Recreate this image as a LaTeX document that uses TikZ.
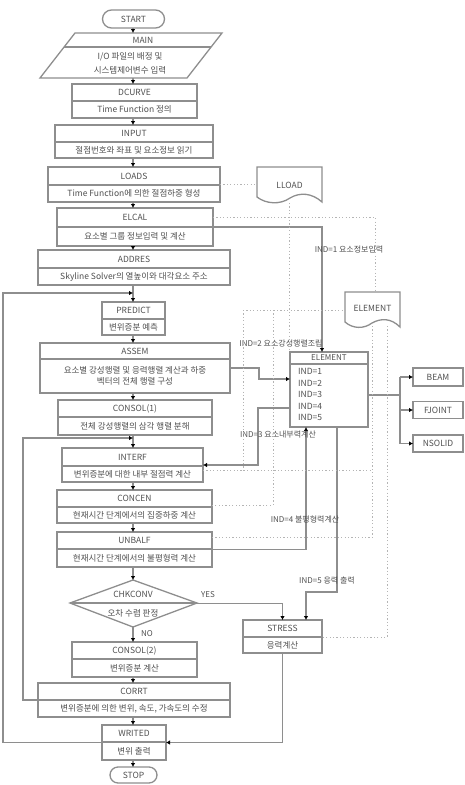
\documentclass[tikz,border=0pt]{standalone}
\usepackage{fontspec}
\newfontfamily\kr{Noto Sans CJK KR}
\usetikzlibrary{arrows.meta,calc}
\definecolor{ln}{HTML}{8E8E8E}
\definecolor{tx}{HTML}{505050}
\definecolor{dl}{HTML}{B4B4B4}
\tikzset{
 boxs/.style={draw=ln, line width=1.3pt, fill=white, inner sep=0pt, outer sep=0pt},
 boxline/.style={draw=ln, line width=1.1pt},
 txt/.style={font=\kr\fontsize{8.5}{10.5}\selectfont, text=tx, inner sep=0pt, align=center},
 lbl/.style={font=\kr\fontsize{8}{10}\selectfont, text=tx, inner sep=1pt},
 conn/.style={draw=ln, line width=1.3pt},
 arr/.style={conn, -{Latex[length=4pt,width=4.5pt,color=black]}},
 dots/.style={draw=dl, line width=0.8pt, dash pattern=on 1.2pt off 2.2pt},
 ghost/.style={inner sep=0pt, outer sep=0pt},
}
\newcommand\twobox[8]{%
 \pgfmathsetmacro\bxcx{(#2+#4)/2}%
 \pgfmathsetmacro\bxcy{(#3+#5)/2}%
 \pgfmathsetmacro\bxw{#4-#2}%
 \pgfmathsetmacro\bxh{#5-#3}%
 \pgfmathsetmacro\bxhy{(#3+#6)/2}%
 \pgfmathsetmacro\bxby{(#6+#5)/2}%
 \node[boxs, minimum width=\bxw pt, minimum height=\bxh pt] (#1) at (\bxcx,\bxcy) {};%
 \draw[boxline] (#2,#6) -- (#4,#6);%
 \node[txt] (#1-h) at (\bxcx,\bxhy) {#7};%
 \node[txt] (#1-b) at (\bxcx,\bxby) {#8};%
}
\begin{document}
\begin{tikzpicture}[x=1pt,y=-1pt]
\useasboundingbox (0,0) rectangle (465,785);
\coordinate (axis) at (133,0);

% ---- main column ----
\node[boxs, txt, rounded corners=9pt, minimum width=62pt, minimum height=18pt] (start) at (133.5,19) {START};

\draw[boxs] (75,33) -- (222,33) -- (187,78) -- (40,78) -- cycle;
\draw[boxline] (64.1,47) -- (211.1,47);
\node[ghost, minimum width=182pt, minimum height=45pt] (mainbox) at (131,55.5) {};
\node[txt] (main-h) at (143,40) {MAIN};
\node[txt, font=\kr\fontsize{8.5}{14}\selectfont] (main-b) at (130,63) {I/O 파일의 배정 및\\시스템제어변수 입력};

\twobox{dcurve}{72}{84}{197}{118}{101}{DCURVE}{Time Function 정의}
\twobox{input}{55}{125}{213}{158}{142}{INPUT}{절점번호와 좌표 및 요소정보 읽기}
\twobox{loads}{48}{167}{220}{202}{185}{LOADS}{Time Function에 의한 절점하중 형성}
\twobox{elcal}{57}{208}{213}{246}{227}{ELCAL}{요소별 그룹 정보입력 및 계산}
\twobox{addres}{38}{250}{230}{285}{268}{ADDRES}{Skyline Solver의 열높이와 대각요소 주소}
\twobox{predict}{102}{302}{165}{335}{319}{PREDICT}{변위증분 예측}
\twobox{assem}{40}{343}{230}{393}{359}{ASSEM}{요소별 강성행렬 및 응력행렬 계산과 하중\\벡터의 전체 행렬 구성}
\twobox{consola}{58}{400}{212}{435}{417}{CONSOL(1)}{전체 강성행렬의 삼각 행렬 분해}
\twobox{interf}{62}{448}{203}{482}{466}{INTERF}{변위증분에 대한 내부 절점력 계산}
\twobox{concen}{57}{490}{212}{523}{507}{CONCEN}{현재시간 단계에서의 집중하중 계산}
\twobox{unbalf}{57}{532}{212}{567}{549}{UNBALF}{현재시간 단계에서의 불평형력 계산}

\draw[boxs] (133,580) -- (197,603) -- (133,627) -- (70,603) -- cycle;
\draw[boxline] (70,603) -- (197,603);
\node[ghost, minimum width=127pt, minimum height=47pt] (chk) at (133.5,603.5) {};
\node[txt] (chk-h) at (133,594) {CHKCONV};
\node[txt] (chk-b) at (133,613) {오차 수렴 판정};

\twobox{consolb}{72}{642}{197}{677}{659}{CONSOL(2)}{변위증분 계산}
\twobox{corrt}{38}{683}{230}{717}{700}{CORRT}{변위증분에 의한 변위, 속도, 가속도의 수정}
\twobox{writed}{102}{725}{166}{760}{742}{WRITED}{변위 출력}
\node[boxs, txt, rounded corners=8pt, minimum width=47pt, minimum height=16pt] (stop) at (133.5,775) {STOP};

% ---- right side ----
\draw[boxs] (257,167) -- (322,167) -- (322,202) .. controls (312,193) and (300,192) .. (290,198) .. controls (280,205) and (266,204) .. (257,197) -- cycle;
\node[ghost, txt, minimum width=65pt, minimum height=36pt] (lload) at (289.5,185) {LLOAD};

\draw[boxs] (345,292) -- (400,292) -- (400,327) .. controls (391,318) and (381,318) .. (372,323) .. controls (364,329) and (353,329) .. (345,322) -- cycle;
\node[ghost, txt, minimum width=55pt, minimum height=36pt] (edoc) at (372.5,308) {ELEMENT};

\node[boxs, minimum width=78pt, minimum height=75pt] (elem) at (329,389.5) {};
\draw[boxline] (290,364) -- (368,364);
\node[txt, font=\kr\fontsize{8}{10}\selectfont] (elem-h) at (329,358) {ELEMENT};
\node[txt, anchor=west] (ind1) at (298,371) {IND=1};
\node[txt, anchor=west] (ind2) at (298,383) {IND=2};
\node[txt, anchor=west] (ind3) at (298,394.5) {IND=3};
\node[txt, anchor=west] (ind4) at (298,406) {IND=4};
\node[txt, anchor=west] (ind5) at (298,417.5) {IND=5};

\node[boxs, txt, minimum width=50pt, minimum height=18pt] (beam) at (438,377) {BEAM};
\node[boxs, txt, minimum width=50pt, minimum height=17pt] (fjoint) at (438,410) {FJOINT};
\node[boxs, txt, minimum width=50pt, minimum height=17pt] (nsolid) at (438,443.5) {NSOLID};

\twobox{stress}{243}{620}{322}{653}{637}{STRESS}{응력계산}

% ---- main flow arrows ----
\draw[arr] (start.south -| axis) -- (mainbox.north -| axis);
\foreach \a/\b in {mainbox/dcurve, dcurve/input, input/loads, loads/elcal, elcal/addres, addres/predict, predict/assem, assem/consola, consola/interf, interf/concen, concen/unbalf, unbalf/chk, chk/consolb, consolb/corrt, corrt/writed, writed/stop}
  \draw[arr] (\a.south -| axis) -- (\b.north -| axis);
\node[lbl] (no) at (147,634) {NO};

% ---- loops ----
\coordinate (lrail) at (3,293);
\coordinate (j1) at (133,293);
\draw[arr] (writed.west) -| (lrail) -- (j1);
\coordinate (irail) at (23,438);
\coordinate (j2) at (133,438);
\draw[arr] (corrt.west) -| (irail) -- (j2);

% ---- right side connectors ----
\coordinate (c1) at (322,227);
\draw[arr] (elcal.east) -- (c1) -- (c1 |- elem.north);
\coordinate (c2) at (259,379);
\draw[arr] (assem.east) -| (c2) -- (elem.west |- c2);
\coordinate (c3) at (258,408);
\draw[arr] (elem.west |- c3) -- (c3) |- (interf.east);
\coordinate (c4) at (306,427);
\draw[arr] (unbalf.east) -| (c4);
\coordinate (c5) at (337,592);
\coordinate (c6) at (306,592);
\draw[arr] (elem.south -| c5) -- (c5) -- (c6) -- (c6 |- stress.north);
\draw[arr] (chk.east) -| (stress.north);
\node[lbl] (yes) at (208,595) {YES};
\draw[arr] (stress.south) |- (writed.east);

\coordinate (tr) at (400,395);
\draw[conn] (elem.east |- tr) -- (tr);
\draw[conn] (tr |- beam) -- (tr |- nsolid);
\draw[arr] (tr |- beam) -- (beam.west);
\draw[arr] (tr |- fjoint) -- (fjoint.west);
\draw[arr] (tr |- nsolid) -- (nsolid.west);

\node[lbl] (l1) at (349,250) {IND=1 요소정보입력};
\node[lbl] (l2) at (281,343) {IND=2 요소강성행렬조립};
\node[lbl] (l3) at (278,435) {IND=3 요소내부력계산};
\node[lbl] (l4) at (305,519) {IND=4 불평형력계산};
\node[lbl] (l5) at (327,580) {IND=5 응력 출력};

% ---- dotted data lines ----
\draw[dots] (loads.east) -- (loads.east -| lload.west);
\draw[dots] (lload.south) -- (lload.south |- elem.north);
\coordinate (d1) at (375,217);
\draw[dots] (elcal.east |- d1) -- (d1) -- (d1 |- edoc.north);
\coordinate (d2) at (243,310);
\coordinate (d3) at (273,310);
\draw[dots] (d2) -- (d2 -| edoc.west);
\coordinate (d4) at (372,470);
\draw[dots] (interf.east |- d4) -- (d4);
\draw[dots] (d2) -- (d2 |- d4);
\coordinate (d5) at (273,505);
\draw[dots] (d3) -- (d5) -- (concen.east |- d5);
\coordinate (d6) at (372,537);
\draw[dots] (unbalf.east |- d6) -- (d6);
\draw[dots] (edoc.south -| d6) -- (d6);
\coordinate (d7) at (387,637);
\draw[dots] (edoc.south -| d7) -- (d7) -- (stress.east |- d7);
\end{tikzpicture}
\end{document}
